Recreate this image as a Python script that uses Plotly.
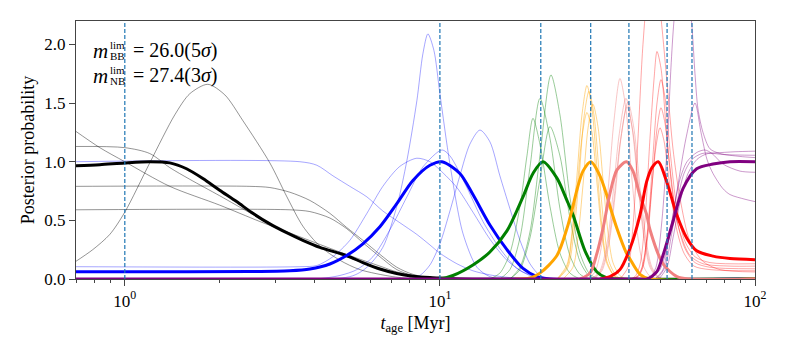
import math
import plotly.graph_objects as go

# ---------------- data (ages in Myr, posterior probability) ----------------
vline_ages = [1.0, 10.0, 20.9, 30.1, 39.8, 52.6, 63.1]

black_x = [0.69, 0.833, 1.0, 1.2, 1.389, 1.570, 1.769, 2.0, 2.263, 2.549, 2.886, 3.262, 3.674, 4.159, 5.056, 5.696, 6.45, 7.288, 8.21, 9.30, 10.0, 11.57, 100]
black_y = [0.965, 0.975, 0.99, 1.0, 0.99, 0.94, 0.857, 0.757, 0.66, 0.56, 0.47, 0.395, 0.33, 0.27, 0.20, 0.14, 0.085, 0.047, 0.024, 0.012, 0.008, 0.0, 0.0]

blue_x = [0.69, 1.0, 2.494, 3.341, 3.867, 4.475, 5.056, 5.696, 6.45, 7.288, 8.21, 9.30, 10.15, 11.57, 12.73, 14.41, 16.32, 18.35, 20.33, 22.35, 100]
blue_y = [0.062, 0.062, 0.063, 0.07, 0.085, 0.128, 0.20, 0.30, 0.445, 0.64, 0.84, 0.97, 1.0, 0.90, 0.72, 0.46, 0.25, 0.09, 0.02, 0.0, 0.0]

green_x = [8.0, 10.0, 11.0, 12.73, 14.41, 16.32, 18.35, 19.74, 21.23, 23.52, 25.3, 26.43, 28.87, 31.51, 33.9, 37.0, 100]
green_y = [0.0, 0.0, 0.03, 0.12, 0.23, 0.41, 0.70, 0.90, 1.0, 0.86, 0.67, 0.55, 0.24, 0.06, 0.01, 0.0, 0.0]

orange_x = [17.3, 19.31, 20.77, 23.52, 25.3, 26.43, 27.22, 28.45, 30.16, 32.2, 33.9, 34.65, 36.47, 38.94, 40.11, 43.14, 46.42, 100]
orange_y = [0.0, 0.01, 0.05, 0.2, 0.43, 0.62, 0.76, 0.92, 1.0, 0.88, 0.71, 0.62, 0.43, 0.23, 0.17, 0.04, 0.0, 0.0]

salmon_x = [27.83, 29.94, 31.51, 32.92, 34.65, 36.47, 39.1, 41.0, 43.14, 45.3, 46.42, 51.03, 56.55, 62.19, 100]
salmon_y = [0.0, 0.05, 0.22, 0.43, 0.73, 0.93, 1.0, 0.92, 0.71, 0.55, 0.42, 0.13, 0.02, 0.0, 0.0]

red_x = [32.2, 34.65, 37.27, 40.11, 43.14, 45.3, 47.1, 49.32, 52.45, 56.42, 60.72, 65.3, 73.6, 83.29, 100]
red_y = [0.0, 0.02, 0.08, 0.26, 0.545, 0.83, 0.95, 1.0, 0.83, 0.55, 0.35, 0.24, 0.195, 0.175, 0.165]

purple_x = [0.69, 43.14, 45.41, 48.75, 51.03, 54.92, 59.08, 65.3, 73.56, 83.29, 100]
purple_y = [0.0, 0.0, 0.0, 0.06, 0.2, 0.49, 0.77, 0.94, 0.98, 1.0, 1.0]

gray_thin_x = [
    [0.69, 0.791, 0.896, 1.0, 1.2, 1.441, 1.608, 1.834, 2.077, 2.37, 2.886, 3.27, 3.674, 4.159, 4.815, 5.572, 7.09, 8.64, 100],
    [0.69, 0.833, 1.0, 1.389, 2.0, 2.683, 3.594, 4.815, 5.696, 6.45, 7.30, 8.21, 10.0, 100],
    [0.69, 1.0, 1.2, 1.389, 1.608, 2.0, 2.549, 3.341, 4.475, 5.696, 6.45, 7.30, 8.21, 10.0, 100],
    [0.69, 2.494, 2.886, 3.341, 3.867, 4.475, 5.056, 5.696, 6.45, 7.30, 8.21, 10.0, 100],
    [0.69, 3.341, 3.867, 4.475, 5.056, 5.696, 6.45, 7.30, 8.21, 10.0, 100],
]
gray_thin_y = [
    [0.14, 0.25, 0.38, 0.57, 0.99, 1.40, 1.58, 1.66, 1.57, 1.35, 0.99, 0.70, 0.45, 0.28, 0.16, 0.08, 0.02, 0.0, 0.0],
    [1.27, 1.12, 1.0, 0.79, 0.63, 0.49, 0.36, 0.23, 0.16, 0.11, 0.06, 0.03, 0.0, 0.0],
    [1.13, 1.12, 1.07, 0.95, 0.85, 0.71, 0.55, 0.38, 0.24, 0.14, 0.09, 0.05, 0.02, 0.0, 0.0],
    [0.79, 0.79, 0.78, 0.74, 0.67, 0.56, 0.44, 0.33, 0.21, 0.10, 0.04, 0.0, 0.0],
    [0.59, 0.59, 0.575, 0.52, 0.43, 0.31, 0.19, 0.08, 0.03, 0.0, 0.0],
]

blue_thin_x = [
    [0.69, 3.594, 4.07, 4.575, 5.179, 5.866, 6.59, 7.46, 8.45, 9.30, 10.0, 11.32, 12.73, 14.41, 16.68, 20.77, 100],
    [0.69, 3.594, 4.07, 4.575, 5.179, 5.866, 6.59, 7.46, 8.45, 9.30, 10.0, 11.32, 12.73, 14.41, 16.32, 18.35, 20.77, 23.5, 100],
    [0.69, 5.179, 5.866, 6.59, 7.30, 7.857, 8.45, 8.83, 9.16, 9.57, 10.0, 10.76, 11.83, 13.11, 14.41, 16.08, 100],
    [0.69, 4.0, 4.815, 5.45, 6.13, 6.94, 7.857, 8.83, 10.15, 10.76, 12.18, 13.7, 15.5, 17.56, 19.74, 22.35, 100],
    [8.03, 8.64, 9.30, 10.0, 10.76, 11.57, 12.45, 13.40, 14.41, 15.50, 16.68, 17.95, 19.31, 20.77, 22.35, 100],
]
blue_thin_y = [
    [1.0, 1.0, 0.97, 0.88, 0.79, 0.70, 0.58, 0.48, 0.38, 0.29, 0.22, 0.13, 0.07, 0.035, 0.012, 0.0, 0.0],
    [0.105, 0.105, 0.115, 0.19, 0.33, 0.56, 0.79, 0.96, 1.03, 1.0, 0.93, 0.78, 0.57, 0.34, 0.16, 0.06, 0.015, 0.0, 0.0],
    [0.0, 0.02, 0.1, 0.27, 0.62, 1.01, 1.52, 1.92, 2.09, 1.95, 1.58, 0.98, 0.39, 0.1, 0.02, 0.0, 0.0],
    [0.0, 0.0, 0.03, 0.08, 0.19, 0.42, 0.70, 0.955, 1.10, 1.05, 0.78, 0.49, 0.26, 0.09, 0.02, 0.0, 0.0],
    [0.0, 0.03, 0.12, 0.30, 0.58, 0.88, 1.15, 1.27, 1.17, 0.88, 0.60, 0.33, 0.13, 0.03, 0.0, 0.0],
]

green_thin_x = [
    [14.41, 15.50, 16.68, 17.95, 18.89, 19.74, 20.77, 22.35, 24.04, 25.86, 27.83],
    [15.50, 16.68, 17.95, 19.31, 20.77, 22.35, 24.04, 25.86, 27.83, 29.94],
    [16.68, 17.95, 19.31, 20.77, 22.51, 24.04, 25.86, 27.83, 29.94, 32.20],
    [16.68, 17.95, 19.31, 20.77, 22.35, 24.04, 25.86, 27.83, 29.94, 32.20],
]
green_thin_y = [
    [0.0, 0.05, 0.22, 0.62, 1.05, 1.37, 1.15, 0.62, 0.22, 0.05, 0.0],
    [0.0, 0.08, 0.35, 0.95, 1.54, 1.2, 0.6, 0.2, 0.04, 0.0],
    [0.0, 0.1, 0.4, 1.05, 1.74, 1.4, 0.7, 0.22, 0.04, 0.0],
    [0.0, 0.08, 0.35, 0.85, 1.30, 1.05, 0.52, 0.15, 0.02, 0.0],
]

orange_thin_x = [
    [23.52, 25.30, 26.24, 27.22, 28.24, 29.29, 30.38, 31.51, 32.68, 33.90, 35.94, 38.0],
    [23.69, 25.49, 26.63, 27.63, 28.66, 29.72, 30.83, 31.98, 33.16, 34.40, 36.47, 38.38],
    [23.52, 25.30, 26.24, 27.22, 28.24, 29.29, 30.38, 31.51, 32.68, 33.90, 35.94, 38.0],
    [24.58, 26.43, 27.43, 28.45, 29.50, 30.60, 31.74, 32.92, 34.15, 35.42, 37.55, 39.81],
]
orange_thin_y = [
    [0.0, 0.12, 0.40, 0.88, 1.40, 1.65, 1.45, 0.95, 0.45, 0.15, 0.02, 0.0],
    [0.0, 0.1, 0.4, 0.85, 1.38, 1.60, 1.40, 0.92, 0.45, 0.15, 0.02, 0.0],
    [0.0, 0.1, 0.35, 0.76, 1.21, 1.42, 1.25, 0.82, 0.39, 0.13, 0.02, 0.0],
    [0.0, 0.1, 0.36, 0.8, 1.28, 1.49, 1.30, 0.85, 0.4, 0.14, 0.02, 0.0],
]

salmon_thin_x = [
    [29.50, 31.05, 32.68, 34.15, 35.68, 37.27, 38.94, 40.69, 42.53, 44.43, 47.10, 55.0],
    [30.38, 32.20, 33.90, 35.42, 37.01, 38.94, 40.69, 42.53, 44.43, 46.42, 49.20, 57.0],
    [30.83, 32.68, 34.40, 35.94, 37.55, 39.52, 41.30, 43.14, 45.08, 47.10, 49.93, 58.0],
    [30.60, 32.44, 34.15, 35.68, 37.27, 39.23, 41.00, 42.84, 44.75, 46.76, 49.57, 58.0],
]
salmon_thin_y = [
    [0.0, 0.06, 0.3, 0.75, 1.35, 1.71, 1.45, 0.85, 0.35, 0.1, 0.01, 0.0],
    [0.0, 0.07, 0.3, 0.72, 1.22, 1.54, 1.3, 0.8, 0.35, 0.1, 0.01, 0.0],
    [0.0, 0.07, 0.3, 0.7, 1.2, 1.51, 1.28, 0.78, 0.34, 0.1, 0.01, 0.0],
    [0.0, 0.07, 0.29, 0.68, 1.15, 1.47, 1.25, 0.76, 0.33, 0.1, 0.01, 0.0],
]

red_thin_x = [
    [37.27, 39.52, 41.0, 42.53, 44.10, 45.74, 47.80, 49.93, 52.55, 54.92, 57.80, 62.19, 68.38, 77.43, 100],
    [40.11, 41.59, 43.14, 44.75, 46.42, 47.80, 48.86, 50.29, 52.55, 54.92, 57.80, 62.19, 68.38, 83.29, 100],
    [40.11, 42.53, 44.10, 45.74, 47.45, 48.86, 50.29, 51.79, 53.72, 56.55, 59.95, 64.50, 71.97, 100],
    [40.11, 42.53, 44.10, 45.74, 47.45, 48.86, 50.29, 51.79, 53.72, 56.55, 59.95, 64.50, 71.97, 100],
    [40.11, 42.21, 43.78, 45.41, 47.10, 48.51, 49.93, 51.41, 53.33, 56.13, 59.52, 64.03, 71.97, 100],
]
red_thin_y = [
    [0.0, 0.1, 0.45, 1.2, 2.0, 2.45, 2.6, 2.3, 1.68, 1.11, 0.69, 0.32, 0.15, 0.08, 0.06],
    [0.0, 0.02, 0.12, 0.5, 1.2, 1.7, 1.94, 1.8, 1.2, 0.7, 0.4, 0.2, 0.13, 0.11, 0.11],
    [0.0, 0.02, 0.12, 0.45, 1.05, 1.5, 1.70, 1.55, 1.1, 0.6, 0.32, 0.19, 0.14, 0.13],
    [0.0, 0.02, 0.1, 0.38, 0.9, 1.28, 1.46, 1.33, 0.95, 0.5, 0.26, 0.14, 0.10, 0.087],
    [0.0, 0.02, 0.1, 0.35, 0.8, 1.13, 1.29, 1.18, 0.85, 0.45, 0.22, 0.11, 0.08, 0.07],
]

purple_thin_x = [
    [46.42, 48.5, 50.66, 52.55, 54.1, 55.3, 57.8, 59.95, 61.28, 63.10, 64.50, 65.92, 68.38, 71.97, 77.43, 89.64, 100],
    [46.42, 49.93, 52.94, 56.55, 60.39, 64.50, 67.39, 70.41, 73.56, 79.15, 83.29, 92.96, 100],
    [48.15, 51.03, 52.94, 54.92, 57.80, 60.83, 65.45, 69.39, 73.03, 79.15, 89.64, 100],
    [48.86, 51.79, 54.1, 56.55, 59.52, 63.10, 67.89, 74.65, 86.42, 100],
    [49.57, 52.55, 54.92, 57.80, 61.28, 65.45, 70.93, 80.32, 100],
]
purple_thin_y = [
    [0.0, 0.1, 0.5, 1.1, 1.8, 2.2, 2.7, 2.8, 2.5, 2.15, 1.75, 1.45, 1.25, 1.11, 1.07, 1.045, 1.035],
    [0.0, 0.08, 0.3, 0.75, 1.2, 1.50, 1.25, 1.02, 0.90, 0.77, 0.72, 0.68, 0.66],
    [0.0, 0.08, 0.3, 0.55, 0.85, 1.0, 1.08, 1.10, 1.07, 0.98, 0.92, 0.91],
    [0.0, 0.1, 0.35, 0.65, 0.9, 1.02, 1.07, 1.075, 1.085, 1.09],
    [0.0, 0.1, 0.35, 0.65, 0.9, 1.02, 1.07, 1.06, 1.055],
]

x_major = [1, 10, 100]
x_major_text = ["10<sup>0</sup>", "10<sup>1</sup>", "10<sup>2</sup>"]
x_minor = [0.7, 0.8, 0.9, 2, 3, 4, 5, 6, 7, 8, 9, 20, 30, 40, 50, 60, 70, 80, 90]
y_ticks = [0.0, 0.5, 1.0, 1.5, 2.0]

# ---------------- figure ----------------
FONT = "Liberation Serif"
fig = go.Figure()

def add(xs, ys, color, width):
    fig.add_trace(go.Scatter(x=xs, y=ys, mode="lines",
                             line=dict(color=color, width=width, shape="spline", smoothing=0.8),
                             hoverinfo="skip", showlegend=False))

thin_groups = [
    (gray_thin_x, gray_thin_y, "rgba(0,0,0,0.42)"),
    (blue_thin_x, blue_thin_y, "rgba(0,0,255,0.35)"),
    (green_thin_x, green_thin_y, "rgba(0,128,0,0.4)"),
    (orange_thin_x, orange_thin_y, "rgba(255,165,0,0.45)"),
    (salmon_thin_x, salmon_thin_y, "rgba(240,128,128,0.45)"),
    (red_thin_x, red_thin_y, "rgba(255,0,0,0.35)"),
    (purple_thin_x, purple_thin_y, "rgba(128,0,128,0.4)"),
]
for xs_list, ys_list, col in thin_groups:
    for xs, ys in zip(xs_list, ys_list):
        add(xs, ys, col, 1)

thick = [
    (black_x, black_y, "black"),
    (blue_x, blue_y, "blue"),
    (green_x, green_y, "green"),
    (orange_x, orange_y, "orange"),
    (salmon_x, salmon_y, "#F08080"),
    (red_x, red_y, "red"),
    (purple_x, purple_y, "purple"),
]
for xs, ys, col in thick:
    add(xs, ys, col, 3)

for a in vline_ages:
    fig.add_trace(go.Scatter(x=[a, a], y=[0, 2.2], mode="lines",
                             line=dict(color="#1f77b4", width=1.2, dash="4px,2px"),
                             hoverinfo="skip", showlegend=False))

axis_common = dict(showline=True, mirror=True, linecolor="#444", linewidth=1.2,
                   showgrid=False, zeroline=False, ticks="outside",
                   tickcolor="#444", tickfont=dict(family=FONT, size=17, color="black"))

fig.update_xaxes(type="log", range=[math.log10(0.7), 2], tickmode="array",
                 tickvals=x_major, ticktext=x_major_text, ticklen=6,
                 minor=dict(tickmode="array", tickvals=x_minor, ticks="outside", ticklen=3, tickcolor="#444"),
                 title=dict(text="<i>t</i><sub>age</sub> [Myr]", font=dict(family=FONT, size=18, color="black"), standoff=6),
                 **axis_common)
fig.update_yaxes(range=[0, 2.2], tickmode="array", tickvals=y_ticks, tickformat=".1f", ticklen=6,
                 title=dict(text="Posterior probability", font=dict(family=FONT, size=18, color="black"), standoff=4),
                 **axis_common)

# text block: m^lim_BB / m^lim_NB
def ann(x, y, text, size):
    fig.add_annotation(xref="paper", yref="paper", x=x, y=y, text=text, showarrow=False,
                       xanchor="left", yanchor="middle", borderpad=0,
                       font=dict(family=FONT, size=size, color="black"))

lines = [("BB", "= 26.0(5<i>σ</i>)", 0.886), ("NB", "= 27.4(3<i>σ</i>)", 0.789)]
for sub, rest, yy in lines:
    ann(0.024, yy - 0.004, "<i>m</i>", 21)
    ann(0.049, yy + 0.022, "lim", 11)
    ann(0.049, yy - 0.022, sub, 11)
    ann(0.082, yy, rest, 20)

# page body has an 8px margin: size the figure so the plot box lands where the reference has it
fig.update_layout(width=773, height=335, margin=dict(l=68, r=26, t=13, b=64),
                  paper_bgcolor="white", plot_bgcolor="white",
                  font=dict(family=FONT, color="black"))

fig.write_html("out.html")
